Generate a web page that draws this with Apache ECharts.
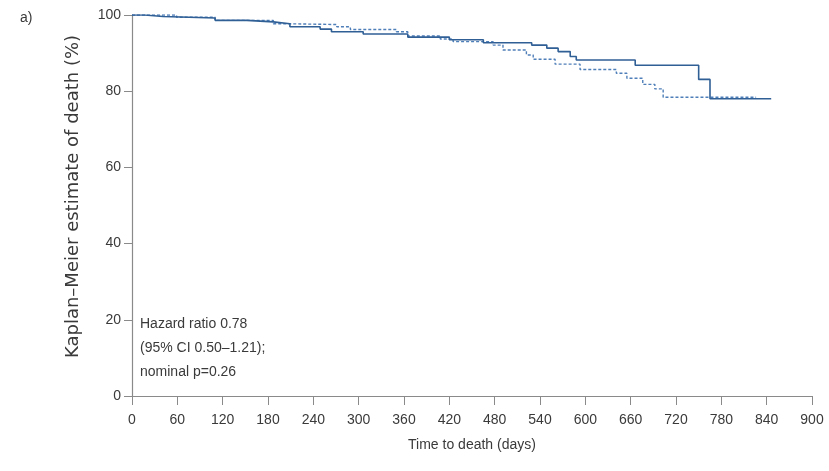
<!DOCTYPE html>
<html>
<head>
<meta charset="utf-8">
<script src="https://cdn.jsdelivr.net/npm/echarts@6/dist/echarts.min.js"></script>
<style>
  html, body { margin: 0; padding: 0; background: #fff; }
  #chart { width: 829px; height: 471px; }
</style>
</head>
<body>
<div id="chart"></div>
<script>
// Kaplan–Meier step data: [day, estimate %], each value holds until the next day listed
const solidDays   = [0, 17, 41, 110, 152, 187, 209, 249, 264, 306, 365, 420, 465, 529, 549, 564, 580, 588, 666, 750, 765, 846];
const solidValues = [100, 99.6, 99.2, 98.6, 98.2, 97.7, 96.9, 96.3, 95.6, 95.0, 94.2, 93.5, 92.7, 92.1, 91.3, 90.4, 89.1, 88.2, 86.8, 83.1, 78.0, 78.0];

const dashedDays   = [0, 59, 110, 187, 207, 271, 289, 350, 365, 408, 425, 478, 491, 522, 531, 560, 593, 641, 655, 676, 692, 703, 826];
const dashedValues = [100, 99.4, 98.6, 97.7, 97.5, 96.9, 96.2, 95.6, 94.5, 93.7, 93.0, 92.1, 90.8, 89.5, 88.4, 87.1, 85.7, 84.7, 83.4, 81.8, 80.6, 78.4, 78.4];

const xTicks = [0, 60, 120, 180, 240, 300, 360, 420, 480, 540, 600, 660, 720, 780, 840, 900];
const yTicks = [0, 20, 40, 60, 80, 100];

const annotationLines = ['Hazard ratio 0.78', '(95% CI 0.50\u20131.21);', 'nominal p=0.26'];

const pairs = (xs, ys) => xs.map((x, i) => [x, ys[i]]);

const narrow = '"Liberation Sans Narrow", "Arial Narrow", "Liberation Sans", sans-serif';
const axisColor = '#8a8a8a';
const textColor = '#3a3a3a';

const chart = echarts.init(document.getElementById('chart'), null, { renderer: 'canvas' });

chart.setOption({
  animation: false,
  backgroundColor: '#ffffff',
  grid: { left: 132, right: 17, top: 15, bottom: 75, containLabel: false },
  xAxis: {
    type: 'value',
    min: xTicks[0],
    max: xTicks[xTicks.length - 1],
    interval: 60,
    name: 'Time to death (days)',
    nameLocation: 'middle',
    nameGap: 42,
    nameTextStyle: { fontFamily: narrow, fontSize: 14, color: textColor },
    axisLine: { show: true, lineStyle: { color: axisColor, width: 1.2 } },
    axisTick: { show: true, length: 9, lineStyle: { color: axisColor } },
    axisLabel: { fontFamily: narrow, fontSize: 14, color: textColor, margin: 17 },
    splitLine: { show: false }
  },
  yAxis: {
    type: 'value',
    min: yTicks[0],
    max: yTicks[yTicks.length - 1],
    interval: 20,
    name: 'Kaplan\u2013Meier estimate of death (%)',
    nameLocation: 'middle',
    nameGap: 50,
    nameRotate: 90,
    nameTextStyle: { fontFamily: '"DejaVu Sans", Verdana, sans-serif', fontSize: 18, color: textColor, padding: [0, 0, 0, 18] },
    axisLine: { show: true, lineStyle: { color: axisColor, width: 1.2 } },
    axisTick: { show: true, length: 8, lineStyle: { color: axisColor } },
    axisLabel: { fontFamily: narrow, fontSize: 14, color: textColor, margin: 11 },
    splitLine: { show: false }
  },
  graphic: [
    {
      type: 'text',
      left: 20,
      top: 11,
      style: { text: 'a)', font: '14px ' + narrow, fill: textColor }
    },
    {
      type: 'text',
      left: 140,
      top: 312,
      style: {
        text: annotationLines.join('\n'),
        font: '14px ' + narrow,
        fill: textColor,
        lineHeight: 24
      }
    }
  ],
  series: [
    {
      name: 'solid',
      type: 'line',
      step: 'end',
      symbol: 'none',
      data: pairs(solidDays, solidValues),
      lineStyle: { color: '#2f5f95', width: 1.6 },
      z: 3
    },
    {
      name: 'dashed',
      type: 'line',
      step: 'end',
      symbol: 'none',
      data: pairs(dashedDays, dashedValues),
      lineStyle: { color: '#4f7fb8', width: 1.4, type: [3, 2] },
      z: 2
    }
  ]
});
</script>
</body>
</html>
